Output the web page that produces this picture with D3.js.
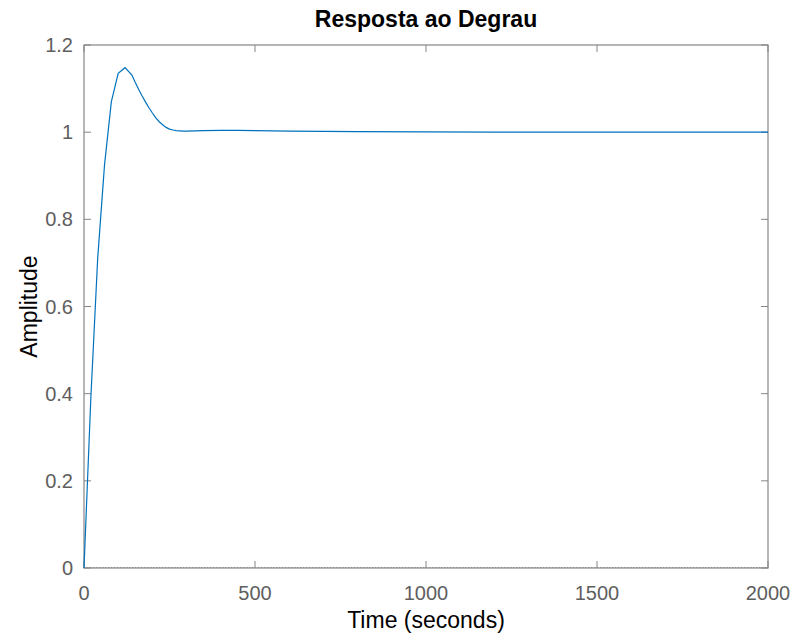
<!DOCTYPE html>
<html>
<head>
<meta charset="utf-8">
<script src="https://cdn.jsdelivr.net/npm/d3@7"></script>
<style>
  body { margin: 0; background: white; }
  svg { font-family: "Liberation Sans", Arial, sans-serif; }
</style>
</head>
<body>
<div id="chart"></div>
<script>
// step response samples
const time = [0, 20, 40, 60, 80, 100, 120, 140, 150, 160, 170, 180, 190, 200, 210, 220, 230, 240, 250,
  260, 270, 280, 290, 300, 350, 400, 450, 500, 600, 700, 800, 1000, 1200, 1500, 2000]
const amplitude = [0, 0.39, 0.71, 0.925, 1.07, 1.135, 1.148, 1.131, 1.114, 1.098, 1.083, 1.069, 1.056, 1.044, 1.033, 1.024, 1.017, 1.011, 1.007,
  1.005, 1.0035, 1.003, 1.0025, 1.0025, 1.0035, 1.0042, 1.004, 1.0035, 1.0025, 1.0017, 1.0012, 1.0006, 1.0003, 1.0001, 1.0]
const xTicks = [0, 500, 1000, 1500, 2000]
const yTicks = [0, 0.2, 0.4, 0.6, 0.8, 1, 1.2]

const width = 793, height = 635
const margin = { top: 45, right: 25, bottom: 67, left: 84 }

const svg = d3.select("#chart").append("svg")
  .attr("width", width)
  .attr("height", height)

const x = d3.scaleLinear().domain([0, 2000]).range([margin.left, width - margin.right])
const y = d3.scaleLinear().domain([0, 1.2]).range([height - margin.bottom, margin.top])

const axisColor = "#858585"
const labelColor = "#5e5e5e"
const tick = 7

// ticks, inward on all four sides
let g = svg.append("g").attr("stroke", axisColor).attr("stroke-width", 1)
xTicks.forEach(t => {
  g.append("line").attr("x1", x(t)).attr("x2", x(t)).attr("y1", y(0)).attr("y2", y(0) - tick)
  g.append("line").attr("x1", x(t)).attr("x2", x(t)).attr("y1", y(1.2)).attr("y2", y(1.2) + tick)
})
yTicks.forEach(t => {
  g.append("line").attr("x1", x(0)).attr("x2", x(0) + tick).attr("y1", y(t)).attr("y2", y(t))
  g.append("line").attr("x1", x(2000)).attr("x2", x(2000) - tick).attr("y1", y(t)).attr("y2", y(t))
})

// dotted zero line
svg.append("line")
  .attr("x1", x(0)).attr("x2", x(2000))
  .attr("y1", y(0) - 0.5).attr("y2", y(0) - 0.5)
  .attr("stroke", "#9a9a9a").attr("stroke-dasharray", "1.5,1.5")

// box
svg.append("rect")
  .attr("x", x(0)).attr("y", y(1.2))
  .attr("width", x(2000) - x(0)).attr("height", y(0) - y(1.2))
  .attr("fill", "none").attr("stroke", axisColor).attr("stroke-width", 1.2)

// tick labels
svg.append("g").selectAll("text").data(xTicks).enter().append("text")
  .attr("x", d => x(d)).attr("y", y(0) + 32)
  .attr("text-anchor", "middle")
  .attr("font-size", 20).attr("fill", labelColor)
  .text(d => d)

svg.append("g").selectAll("text").data(yTicks).enter().append("text")
  .attr("x", x(0) - 11).attr("y", d => y(d) + 7)
  .attr("text-anchor", "end")
  .attr("font-size", 20).attr("fill", labelColor)
  .text(d => d3.format("~g")(d))

// response curve
const line = d3.line().x((d, i) => x(time[i])).y(d => y(d))
svg.append("path")
  .attr("d", line(amplitude))
  .attr("fill", "none")
  .attr("stroke", "#0072BD")
  .attr("stroke-width", 1.2)

// titles
svg.append("text")
  .attr("x", (x(0) + x(2000)) / 2).attr("y", 27)
  .attr("text-anchor", "middle")
  .attr("font-size", 23).attr("font-weight", "bold").attr("fill", "#000")
  .text("Resposta ao Degrau")

svg.append("text")
  .attr("x", (x(0) + x(2000)) / 2).attr("y", 628)
  .attr("text-anchor", "middle")
  .attr("font-size", 23).attr("fill", "#000")
  .text("Time (seconds)")

svg.append("text")
  .attr("transform", `translate(37, ${(y(0) + y(1.2)) / 2}) rotate(-90)`)
  .attr("text-anchor", "middle")
  .attr("font-size", 23).attr("fill", "#000")
  .text("Amplitude")
</script>
</body>
</html>
